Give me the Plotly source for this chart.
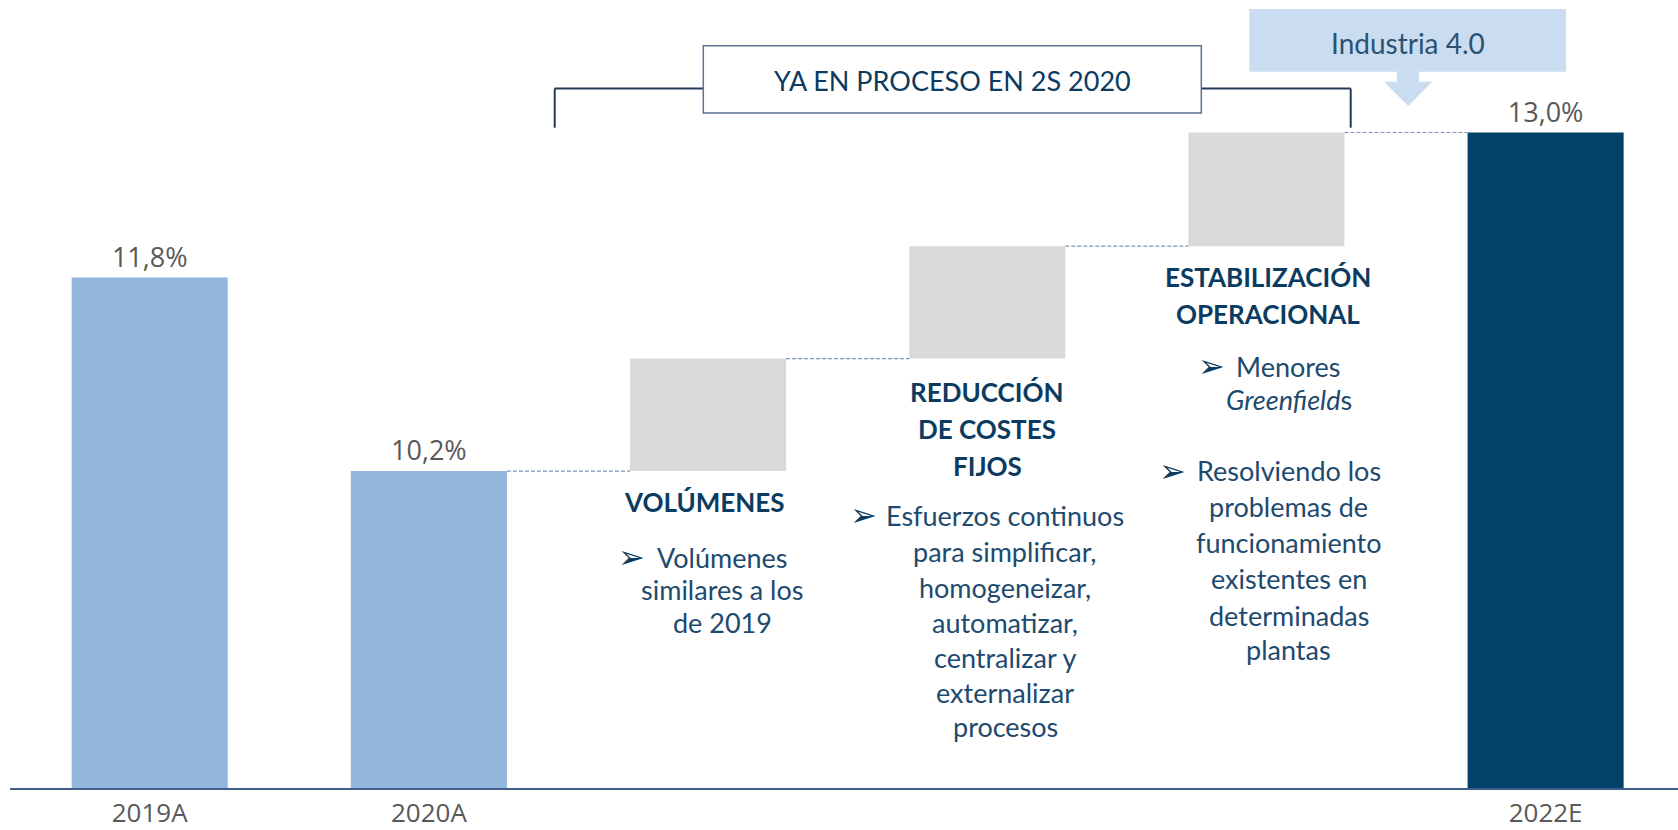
import plotly.graph_objects as go

# ---------------- data ----------------
categories = ["2019A", "2020A", "Volúmenes", "Reducción de costes fijos",
              "Estabilización operacional", "2022E"]
total_x = [0, 1, 5]
total_labels = ["2019A", "2020A", "2022E"]
total_values = [11.8, 10.2, 13.0]
step_x = [2, 3, 4]
step_values = [0.93, 0.93, 0.94]

bracket_title = "YA EN PROCESO EN 2S 2020"
callout_title = "Industria 4.0"

vol_title = ["VOLÚMENES"]
vol_body = ["Volúmenes", "similares a los", "de 2019"]
red_title = ["REDUCCIÓN", "DE COSTES", "FIJOS"]
red_body = ["Esfuerzos continuos", "para simplificar,", "homogeneizar,",
            "automatizar,", "centralizar y", "externalizar", "procesos"]
est_title = ["ESTABILIZACIÓN", "OPERACIONAL"]
est_body1 = ["Menores", "<i>Greenfield</i>s"]
est_body2 = ["Resolviendo los", "problemas de", "funcionamiento",
             "existentes en", "determinadas", "plantas"]
bullet = "➢"

# ---------------- layout constants ----------------
W, H = 1678, 830
MB = 41
PH = H - MB
Y_MIN = 7.57
PX_PER_UNIT = 120.9
BW = 0.559
X_RANGE = [-0.5362, 5.4742]

LIGHT = "#93b6dd"
DARK = "#01426a"
GREY = "#d9d9d9"
HEAD_C = "#0b3b60"
BODY_C = "#1d4a6e"
LABEL_C = "#595959"


def fmt(v):
    return f"{v:.1f}".replace(".", ",") + "%"


def px(x):
    return x / W


def py(y):
    return (PH - y) / PH


# waterfall bases
bases = []
level = total_values[1]
for s in step_values:
    bases.append(level)
    level += s
levels = [total_values[1]] + [b + s for b, s in zip(bases, step_values)]

fig = go.Figure()
fig.add_bar(x=total_x, y=total_values, width=BW,
            marker=dict(color=[LIGHT, LIGHT, DARK], line=dict(width=0)),
            text=[fmt(v) for v in total_values], textposition="outside",
            textfont=dict(family="Open Sans", size=27, color=LABEL_C),
            constraintext="none", cliponaxis=False, hoverinfo="skip")
fig.add_bar(x=step_x, y=step_values, base=bases, width=BW,
            marker=dict(color=GREY, line=dict(width=0)), hoverinfo="skip")

shapes = []
# dashed connectors
for i, lv in enumerate(levels):
    xi = i + 1
    shapes.append(dict(type="line", xref="x", yref="y",
                       x0=xi + BW / 2, x1=xi + 1 - BW / 2, y0=lv, y1=lv,
                       line=dict(color="#7f95b3", width=1.2, dash="4px,2px")))
# baseline axis line
shapes.append(dict(type="line", xref="paper", yref="paper",
                   x0=px(10), x1=1, y0=0, y1=0, layer="above",
                   line=dict(color="#3f5f86", width=2)))
# bracket
BRK = dict(color="#243a58", width=2)
for (x0, y0, x1, y1) in [(554.7, 88.5, 554.7, 127.7), (554.7, 88.5, 703.3, 88.5),
                         (1201.3, 88.5, 1350.7, 88.5), (1350.7, 88.5, 1350.7, 127.7)]:
    shapes.append(dict(type="line", xref="paper", yref="paper",
                       x0=px(x0), y0=py(y0), x1=px(x1), y1=py(y1), line=BRK))
# bracket box
shapes.append(dict(type="rect", xref="paper", yref="paper",
                   x0=px(703.3), x1=px(1201.3), y0=py(113), y1=py(45.7),
                   fillcolor="white", line=dict(color="#5b7492", width=1.5)))
# Industria callout box + arrow
CALL = "#c9dcf0"
shapes.append(dict(type="rect", xref="paper", yref="paper",
                   x0=px(1249.3), x1=px(1566), y0=py(71.7), y1=py(9),
                   fillcolor=CALL, line=dict(width=0)))
pts = [(1396.7, 71), (1419, 71), (1419, 81.7), (1432.3, 81.7), (1408.3, 106),
       (1384, 81.7), (1396.7, 81.7)]
path = "M " + " L ".join(f"{px(a):.5f},{py(b):.5f}" for a, b in pts) + " Z"
shapes.append(dict(type="path", xref="paper", yref="paper", path=path,
                   fillcolor=CALL, line=dict(width=0)))

annotations = []


def add_text(text, x, y, size=27, color=BODY_C, family="Lato", weight="normal"):
    annotations.append(dict(text=text, x=px(x), y=py(y), xref="paper", yref="paper",
                            xanchor="center", yanchor="middle", showarrow=False,
                            font=dict(family=family, size=size, color=color, weight=weight)))


add_text(bracket_title, 952, 81, size=27, color=HEAD_C)
add_text(callout_title, 1408, 43, size=28, color="#2b5272")

# headings
for t, y in zip(vol_title, [501.5]):
    add_text(t, 704.5, y, size=26, color=HEAD_C, weight="bold")
for t, y in zip(red_title, [391.7, 428.5, 465.5]):
    add_text(t, 987.5, y, size=26, color=HEAD_C, weight="bold")
for t, y in zip(est_title, [276.7, 314.5]):
    add_text(t, 1268.3, y, size=26, color=HEAD_C, weight="bold")

# bodies
for t, y in zip(vol_body, [557, 589.5, 622]):
    add_text(t, 722, y)
for t, y in zip(red_body, [515, 551, 587, 622.5, 657.5, 692.5, 726.5]):
    add_text(t, 1005.5, y)
for t, y in zip(est_body1, [366, 399.5]):
    add_text(t, 1288.5, y)
for t, y in zip(est_body2, [470.5, 506, 542, 578.5, 615, 649.5]):
    add_text(t, 1288.5, y)

# bullets
for x, y in [(631.7, 557), (863, 515), (1211, 366), (1172.5, 470.5)]:
    add_text(bullet, x, y, size=32, color=HEAD_C, family="DejaVu Sans")

fig.update_layout(
    width=W, height=H,
    margin=dict(l=0, r=0, t=0, b=MB, pad=0, autoexpand=False),
    paper_bgcolor="white", plot_bgcolor="white",
    barmode="overlay", showlegend=False,
    shapes=shapes, annotations=annotations,
    xaxis=dict(range=X_RANGE, tickmode="array", tickvals=total_x, ticktext=total_labels,
               tickfont=dict(family="Open Sans", size=26, color=LABEL_C),
               ticks="outside", ticklen=1, tickcolor="rgba(0,0,0,0)", automargin=False,
               showgrid=False, zeroline=False, showline=False, fixedrange=True),
    yaxis=dict(range=[Y_MIN, Y_MIN + PH / PX_PER_UNIT], visible=False, automargin=False,
               showgrid=False, zeroline=False, fixedrange=True),
)

fig.write_html("out.html", config={"displayModeBar": False},
               post_script="document.body.style.margin='0';document.body.style.overflow='hidden';")
